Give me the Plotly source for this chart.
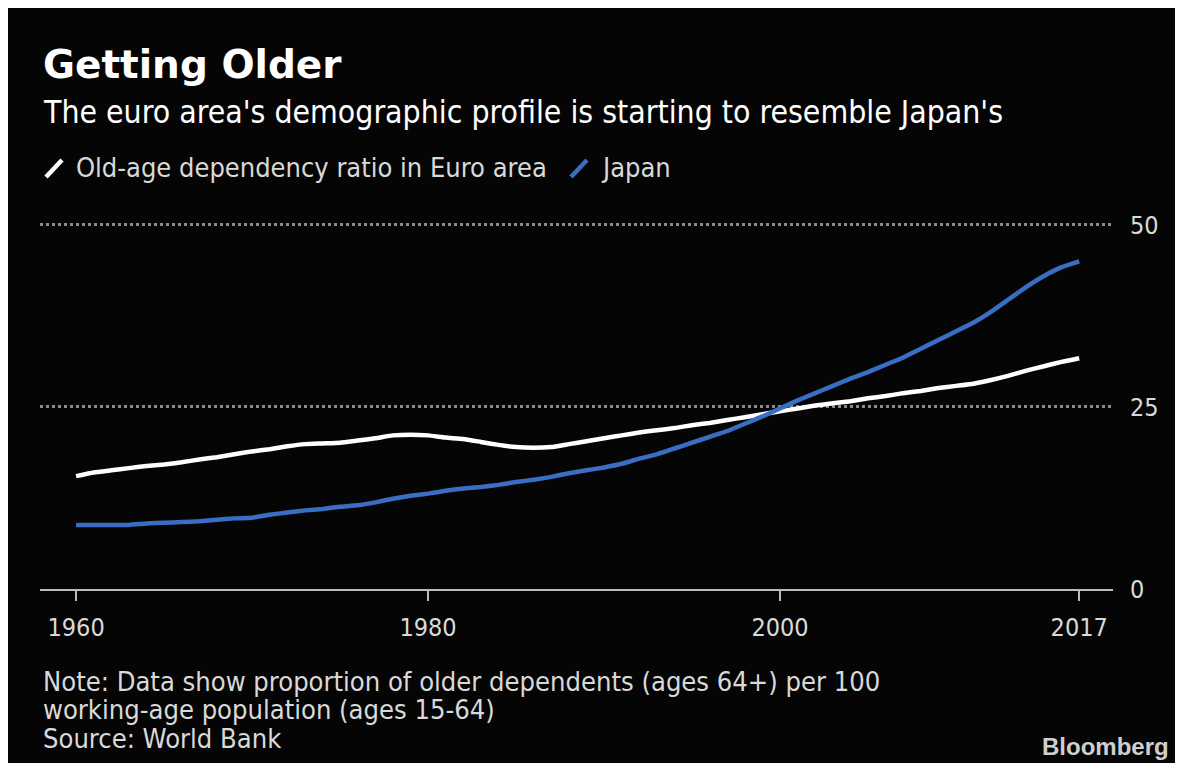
import plotly.graph_objects as go

years = list(range(1960, 2018))

euro_area = [15.5, 16.0, 16.3, 16.6, 16.9, 17.1, 17.4, 17.8, 18.1, 18.5,
             18.9, 19.2, 19.6, 19.9, 20.0, 20.1, 20.4, 20.7, 21.1, 21.2,
             21.1, 20.8, 20.6, 20.2, 19.8, 19.5, 19.4, 19.5, 19.9, 20.3,
             20.7, 21.1, 21.5, 21.8, 22.1, 22.5, 22.8, 23.2, 23.6, 24.0,
             24.4, 24.8, 25.2, 25.5, 25.8, 26.2, 26.5, 26.9, 27.2, 27.6,
             27.9, 28.2, 28.7, 29.3, 30.0, 30.6, 31.2, 31.7]

japan = [8.8, 8.8, 8.8, 8.8, 9.0, 9.1, 9.2, 9.3, 9.5, 9.7,
         9.8, 10.2, 10.5, 10.8, 11.0, 11.3, 11.5, 11.9, 12.4, 12.8,
         13.1, 13.5, 13.8, 14.0, 14.3, 14.7, 15.0, 15.4, 15.9, 16.3,
         16.7, 17.2, 17.9, 18.5, 19.3, 20.1, 20.9, 21.7, 22.7, 23.7,
         24.8, 25.9, 26.9, 27.9, 28.9, 29.8, 30.8, 31.8, 33.0, 34.2,
         35.4, 36.6, 38.1, 39.8, 41.5, 43.0, 44.2, 45.0]

x_tick_vals = [1960, 1980, 2000, 2017]
x_tick_text = ["1960", "1980", "2000", "2017"]
y_tick_vals = [0, 25, 50]
y_tick_text = ["0", "25", "50"]

title = "Getting Older"
subtitle = "The euro area's demographic profile is starting to resemble Japan's"
legend_labels = ["Old-age dependency ratio in Euro area", "Japan"]
note_lines = ["Note: Data show proportion of older dependents (ages 64+) per 100",
              "working-age population (ages 15-64)",
              "Source: World Bank"]

WHITE = "#ffffff"
BLUE = "#3a6ec4"
BG = "#050505"
TXT = "#d9d9d9"
FONT = "DejaVu Sans Condensed, Liberation Sans Narrow, DejaVu Sans, sans-serif"

fig = go.Figure()
fig.add_trace(go.Scatter(x=years, y=euro_area, mode="lines",
                         line=dict(color=WHITE, width=4.5, shape="spline", smoothing=0.4),
                         name=legend_labels[0]))
fig.add_trace(go.Scatter(x=years, y=japan, mode="lines",
                         line=dict(color=BLUE, width=4.5, shape="spline", smoothing=0.4),
                         name=legend_labels[1]))

W, H = 1183, 763
L, R, T, B = 32, 78, 207, 182
PW = W - L - R
PH = H - T - B
BOTTOM = H - B

fig.update_layout(
    width=W, height=H,
    paper_bgcolor=BG, plot_bgcolor=BG,
    margin=dict(l=L, r=R, t=T, b=B),
    showlegend=False,
    font=dict(family=FONT, color=TXT, size=25),
)
fig.update_xaxes(
    range=[1957.95, 2018.92],
    tickvals=x_tick_vals, ticktext=x_tick_text,
    showgrid=False, zeroline=False,
    showline=True, linecolor="#bdbdbd", linewidth=2,
    ticks="outside", ticklen=10, tickwidth=2, tickcolor="#bdbdbd",
    ticklabelstandoff=5,
    tickfont=dict(size=25, color=TXT, family=FONT),
)
fig.update_yaxes(
    range=[0, 51.37], side="right",
    tickvals=y_tick_vals, ticktext=y_tick_text,
    showgrid=True, gridcolor="#8a8a8a", griddash="dot", gridwidth=2.5,
    zeroline=False, showline=False, ticks="",
    ticklabelstandoff=16,
    tickfont=dict(size=25, color=TXT, family=FONT),
)

def px_x(p):
    return (p - L) / PW

def px_y(p):
    return (BOTTOM - p) / PH

def text_ann(text, x, y, size, color, family=FONT, anchor="left"):
    return dict(text=text, x=px_x(x), y=px_y(y), xref="paper", yref="paper",
                xanchor=anchor, yanchor="middle", showarrow=False,
                font=dict(size=size, color=color, family=family))

ann = [
    text_ann("<b>" + title + "</b>", 33, 57, 39, "#ffffff", "DejaVu Sans, sans-serif"),
    text_ann(subtitle, 33, 104, 31.7, "#ffffff"),
    text_ann(legend_labels[0], 66, 160, 27, TXT),
    text_ann(legend_labels[1], 591, 160, 27, TXT),
]
for i, line in enumerate(note_lines):
    ann.append(text_ann(line, 33, 673 + 28.5 * i, 27.1, TXT))
ann.append(text_ann("<b>Bloomberg</b>", 1163, 738, 24, "#cfcfcf",
                    "Liberation Sans, Arial, sans-serif", anchor="right"))
fig.update_layout(annotations=ann)

shapes = [
    dict(type="line", xref="paper", yref="paper",
         x0=px_x(38), y0=px_y(169), x1=px_x(54), y1=px_y(152),
         line=dict(color=WHITE, width=4.5)),
    dict(type="line", xref="paper", yref="paper",
         x0=px_x(563), y0=px_y(169), x1=px_x(579), y1=px_y(152),
         line=dict(color=BLUE, width=4.5)),
]
fig.update_layout(shapes=shapes)

fig.write_html("out.html")
